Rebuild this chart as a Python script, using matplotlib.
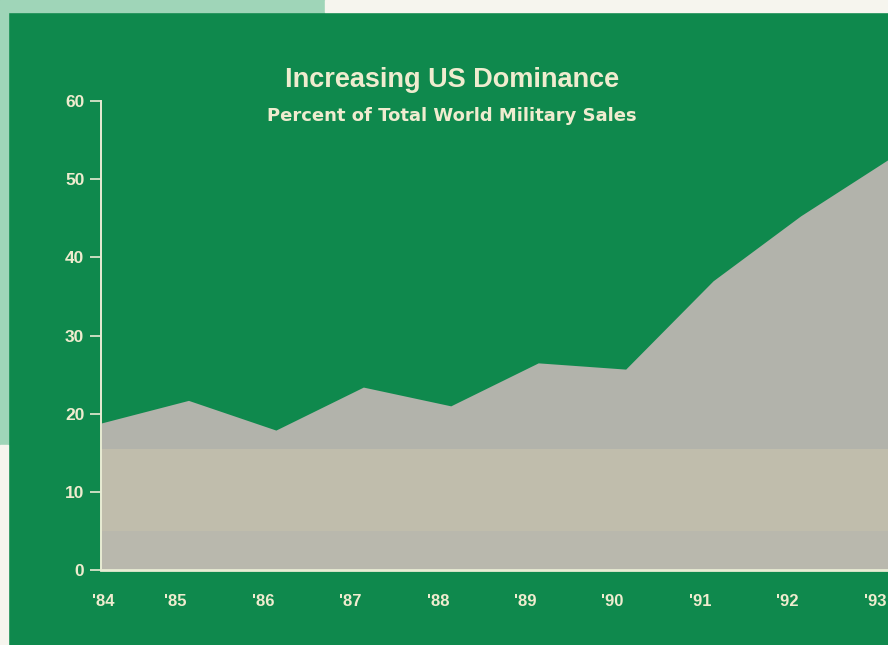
import matplotlib
matplotlib.use("Agg")
import matplotlib.pyplot as plt
from matplotlib.patches import Rectangle
from matplotlib.transforms import ScaledTranslation
import numpy as np

# ---- data ----
years = [1984, 1985, 1986, 1987, 1988, 1989, 1990, 1991, 1992, 1993]
year_labels = ["'84", "'85", "'86", "'87", "'88", "'89", "'90", "'91", "'92", "'93"]
us_share = [18.8, 21.7, 17.9, 23.4, 21.0, 26.5, 25.7, 37.0, 45.3, 52.5]
y_ticks = [0, 10, 20, 30, 40, 50, 60]

title = "Increasing US Dominance"
subtitle = "Percent of Total World Military Sales"

# ---- style ----
GREEN = "#0f894d"
LIGHT_GREEN = "#9fd5b8"
PAPER = "#f6f5ee"
GRAY = "#b2b3ab"
BEIGE = "#c0bdac"
LOWER = "#b9b8ad"
TEXT = "#efeccf"
AXIS = "#e9ecd4"
FONT = "Liberation Sans"

W, H = 888, 645
fig = plt.figure(figsize=(W / 100, H / 100), dpi=100)
fig.patch.set_facecolor(GREEN)

def frect(x0, y0_top, w, h, color):
    fig.patches.append(Rectangle((x0 / W, 1 - (y0_top + h) / H), w / W, h / H,
                                 transform=fig.transFigure, color=color, zorder=0))

frect(0, 0, 325, 12, LIGHT_GREEN)
frect(325, 0, W - 325, 12, PAPER)
frect(0, 0, 8, 445, LIGHT_GREEN)
frect(0, 445, 8, H - 445, PAPER)

left_px, right_px = 101, 888
bottom_px, top_px = 570, 101
ax = fig.add_axes([left_px / W, 1 - bottom_px / H,
                   (right_px - left_px) / W, (bottom_px - top_px) / H])
ax.set_facecolor(GREEN)

px_per_year = 88.0
x_end = years[0] + (right_px - left_px) / px_per_year
ax.set_xlim(years[0], x_end)
ax.set_ylim(0, 60)

share = np.array(us_share)
x = np.array(years)
ax.fill_between(x, 0, share, color=GRAY, lw=0, zorder=1)
ax.fill_between(x, 5, np.minimum(share, 15.5), color=BEIGE, lw=0, zorder=2)
ax.fill_between(x, 0, np.minimum(share, 5), color=LOWER, lw=0, zorder=2)

for s in ["top", "right"]:
    ax.spines[s].set_visible(False)
ax.spines["left"].set_color(AXIS)
ax.spines["left"].set_linewidth(1.4)
ax.spines["bottom"].set_color(AXIS)
ax.spines["bottom"].set_linewidth(2.0)
for s in ["left", "bottom"]:
    ax.spines[s].set_zorder(5)

ax.set_yticks(y_ticks)
ax.set_yticklabels([str(v) for v in y_ticks])
ax.tick_params(axis="y", colors=AXIS, length=8, width=1.2, pad=4,
               labelsize=12.5, labelcolor=TEXT)
for lab in ax.get_yticklabels():
    lab.set_fontfamily(FONT)
    lab.set_fontweight("bold")

ax.set_xticks(years)
ax.set_xticklabels(year_labels)
ax.tick_params(axis="x", length=0, pad=17, labelsize=12, labelcolor=TEXT)
for i, lab in enumerate(ax.get_xticklabels()):
    lab.set_fontfamily(FONT)
    lab.set_fontweight("bold")
    dx_px = 2 if i == 0 else -13
    lab.set_transform(lab.get_transform() + ScaledTranslation(dx_px / fig.dpi, 0, fig.dpi_scale_trans))

fig.text(452 / W, 1 - 80 / H, title, ha="center", va="center", color=TEXT,
         fontsize=19.5, fontweight="bold", family=FONT)
fig.text(452 / W, 1 - 116 / H, subtitle, ha="center", va="center", color=TEXT,
         fontsize=13, fontweight="bold", family="DejaVu Sans")

fig.savefig("out.png", dpi=100, facecolor=fig.get_facecolor())
